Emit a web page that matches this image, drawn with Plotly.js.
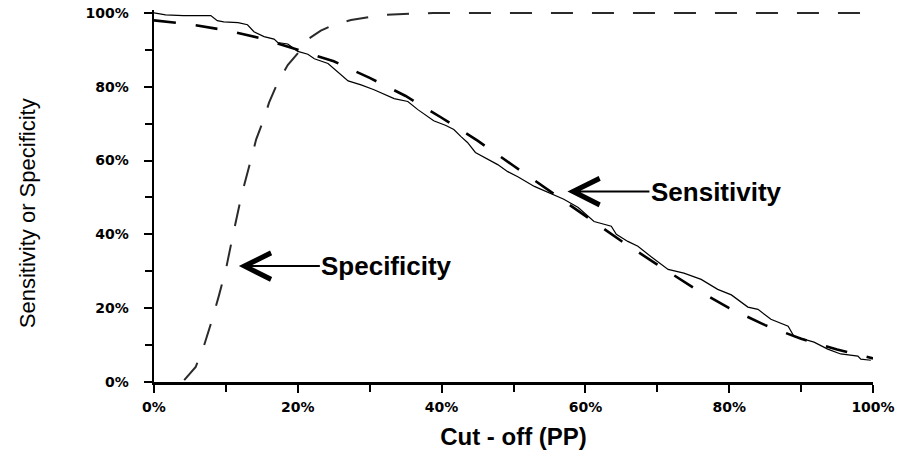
<!DOCTYPE html>
<html>
<head>
<meta charset="utf-8">
<script src="https://cdn.plot.ly/plotly-3.0.1.min.js"></script>
<style>
  html, body { margin: 0; padding: 0; background: #fff; }
  #chart { width: 899px; height: 454px; }
</style>
</head>
<body>
<div id="chart"></div>
<script>
// Cut-off (PP), in percent, with observed and fitted sensitivity / specificity.
const sensObsX = [0, 1.6, 4.1, 7.9, 8.8, 9.7, 11.7, 13.0, 13.9, 15.3, 16.7, 17.2, 18.6, 20.0, 21.4, 22.3, 24.2, 25.6, 27.0, 28.8, 30.6, 33.4, 35.3, 36.7, 38.9, 40.6, 41.7, 42.7, 43.6, 44.7, 46.1, 47.8, 49.2, 50.6, 52.9, 54.8, 57.0, 59.0, 61.2, 63.6, 64.3, 65.9, 67.3, 69.1, 71.5, 73.7, 76.1, 78.4, 80.3, 82.6, 84.0, 85.8, 88.2, 89.0, 91.8, 93.7, 95.5, 97.9, 98.3, 99.7];
const sensObsY = [100, 99.5, 99.3, 99.3, 97.9, 97.6, 97.4, 96.8, 94.9, 93.6, 92.9, 92.0, 91.6, 89.6, 88.8, 87.6, 86.3, 84.0, 81.6, 80.5, 79.2, 76.8, 76.0, 73.8, 70.8, 69.5, 68.4, 66.5, 64.9, 62.2, 60.8, 58.9, 57.0, 55.6, 53.0, 51.4, 49.5, 47.3, 43.5, 42.2, 40.0, 38.1, 36.8, 34.0, 30.5, 29.5, 27.8, 25.1, 23.6, 20.3, 19.7, 17.0, 15.1, 12.4, 10.8, 8.9, 7.6, 7.0, 6.2, 5.9];

const sensFitX = [0, 5, 10, 15, 20, 25, 30, 35, 40, 45, 50, 55, 60, 65, 70, 75, 80, 85, 90, 95, 100];
const sensFitY = [98.0, 96.9, 95.3, 93.1, 90.0, 86.9, 82.4, 77.5, 71.6, 65.4, 58.6, 51.8, 45.0, 38.2, 31.8, 25.6, 20.0, 15.4, 11.7, 8.8, 6.4];

const specX = [4.2, 5.8, 6.9, 7.9, 9.0, 10.0, 11.0, 12.2, 13.6, 14.2, 15.3, 16.0, 17.2, 18.6, 20.4, 21.5, 23.2, 25.0, 27.4, 32.0, 38.8, 50, 60, 70, 80, 90, 100];
const specY = [0.5, 4.1, 9.5, 15.7, 23.2, 30.5, 40.0, 50.8, 61.1, 65.7, 71.4, 75.7, 81.1, 85.9, 90.0, 93.0, 95.2, 96.8, 98.1, 99.5, 100, 100, 100, 100, 100, 100, 100];

const tickVals = [0, 20, 40, 60, 80, 100];
const tickLabels = ['0%', '20%', '40%', '60%', '80%', '100%'];
const xTitle = 'Cut - off (PP)';
const yTitle = 'Sensitivity or Specificity';
const sensLabel = 'Sensitivity';
const specLabel = 'Specificity';

const traces = [
  { x: specX, y: specY, type: 'scatter', mode: 'lines', name: specLabel,
    line: { color: '#2a2a2a', width: 2, dash: '22px,19px' }, hoverinfo: 'skip' },
  { x: sensFitX, y: sensFitY, type: 'scatter', mode: 'lines', name: sensLabel + ' (fit)',
    line: { color: '#000', width: 2.6, dash: '22px,20px' }, hoverinfo: 'skip' },
  { x: sensObsX, y: sensObsY, type: 'scatter', mode: 'lines', name: sensLabel,
    line: { color: '#000', width: 1.2 }, hoverinfo: 'skip' }
];

const tickFont = { family: 'DejaVu Sans', size: 14, weight: 'bold', color: '#000' };
const axisCommon = {
  showgrid: false, zeroline: false, showline: true, linecolor: '#000', linewidth: 2.5,
  ticks: 'outside', ticklen: 8, tickwidth: 2, tickcolor: '#000',
  tickmode: 'array', tickvals: tickVals, ticktext: tickLabels, tickfont: tickFont,
  minor: { dtick: 10, tick0: 0, ticks: 'outside', ticklen: 7, tickwidth: 2, tickcolor: '#000' },
  fixedrange: true
};

const layout = {
  width: 899, height: 454,
  margin: { l: 153.5, r: 26, t: 9.5, b: 71.5 },
  paper_bgcolor: '#fff', plot_bgcolor: '#fff',
  showlegend: false,
  xaxis: Object.assign({}, axisCommon, {
    range: [0, 100],
    ticklabelstandoff: 3,
    title: { text: xTitle, standoff: 14,
             font: { family: 'Liberation Sans', size: 24, weight: 'bold', color: '#000' } }
  }),
  yaxis: Object.assign({}, axisCommon, {
    range: [0, 100.8],
    ticklabelstandoff: 12
  }),
  annotations: [
    { xref: 'paper', yref: 'paper', x: -0.176, y: 0.455, text: yTitle, textangle: -90,
      showarrow: false, xanchor: 'center', yanchor: 'middle',
      font: { family: 'Liberation Sans', size: 22, color: '#000' } },
    { x: 11.8, y: 31.4, xref: 'x', yref: 'y', text: specLabel,
      showarrow: true, ax: 148, ay: 0, arrowhead: 5, arrowsize: 2.6, arrowwidth: 2,
      arrowcolor: '#000', standoff: 0,
      font: { family: 'Liberation Sans', size: 26, weight: 'bold', color: '#000' } },
    { x: 57.5, y: 51.6, xref: 'x', yref: 'y', text: sensLabel,
      showarrow: true, ax: 149, ay: 0, arrowhead: 5, arrowsize: 2.6, arrowwidth: 2,
      arrowcolor: '#000', standoff: 0,
      font: { family: 'Liberation Sans', size: 26, weight: 'bold', color: '#000' } }
  ]
};

Plotly.newPlot('chart', traces, layout, { displayModeBar: false, staticPlot: true });
</script>
</body>
</html>
